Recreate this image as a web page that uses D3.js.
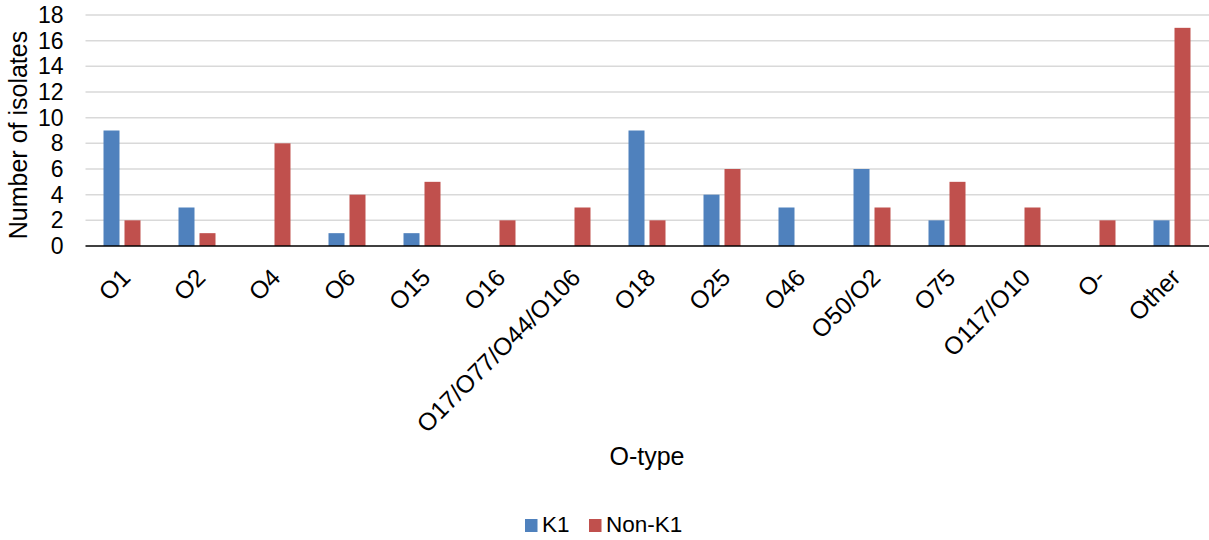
<!DOCTYPE html>
<html>
<head>
<meta charset="utf-8">
<script src="https://cdn.jsdelivr.net/npm/d3@7"></script>
<style>
  html, body { margin: 0; padding: 0; background: #fff; }
  svg { display: block; font-family: "Liberation Sans", Arial, sans-serif; }
</style>
</head>
<body>
<svg id="chart" width="1209" height="540"></svg>
<script>
// O-type categories and isolate counts per capsule group
const categories = ["O1", "O2", "O4", "O6", "O15", "O16", "O17/O77/O44/O106", "O18", "O25", "O46", "O50/O2", "O75", "O117/O10", "O-", "Other"];
const k1Values    = [9, 3, 0, 1, 1, 0, 0, 9, 4, 3, 6, 2, 0, 0, 2];
const nonK1Values = [2, 1, 8, 4, 5, 2, 3, 2, 6, 0, 3, 5, 3, 2, 17];
const seriesNames = ["K1", "Non-K1"];
const yTicks = [0, 2, 4, 6, 8, 10, 12, 14, 16, 18];

const colors = { "K1": "#4f81bd", "Non-K1": "#c0504d" };
const fontFamily = "Liberation Sans, Arial, sans-serif";

const svg = d3.select("#chart");
const plotLeft = 84.5, plotRight = 1209.5, plotTop = 15, plotBottom = 246;

const x = d3.scaleBand().domain(categories).range([plotLeft, plotRight]).paddingInner(0).paddingOuter(0);
const xs = d3.scaleBand().domain(seriesNames).range([0, x.bandwidth()]).paddingInner(0.238).paddingOuter(0.905);
const y = d3.scaleLinear().domain([0, 18]).range([plotBottom, plotTop]);

// horizontal gridlines
svg.append("g")
  .selectAll("line")
  .data(yTicks.filter(d => d > 0))
  .join("line")
  .attr("x1", plotLeft + 1).attr("x2", 1209)
  .attr("y1", d => y(d)).attr("y2", d => y(d))
  .attr("stroke", "#d9d9d9").attr("stroke-width", 1.5);

// y axis tick labels
const yAxis = d3.axisLeft(y).tickValues(yTicks).tickSize(0).tickPadding(0);
svg.append("g")
  .attr("transform", `translate(${plotLeft - 21},0)`)
  .call(yAxis)
  .call(g => g.select(".domain").remove())
  .call(g => g.attr("font-size", 23).attr("font-family", fontFamily))
  .selectAll("text")
  .attr("fill", "#000");

// bars
const rows = categories.map((c, i) => ({ cat: c, vals: [
  { s: "K1", v: k1Values[i] },
  { s: "Non-K1", v: nonK1Values[i] }
]}));

const groups = svg.append("g").selectAll("g")
  .data(rows).join("g")
  .attr("transform", d => `translate(${x(d.cat)},0)`);

groups.selectAll("rect")
  .data(d => d.vals.filter(e => e.v > 0))
  .join("rect")
  .attr("x", d => xs(d.s))
  .attr("width", xs.bandwidth())
  .attr("y", d => y(d.v))
  .attr("height", d => y(0) - y(d.v))
  .attr("fill", d => colors[d.s]);

// baseline axis with rotated category labels
const xAxis = d3.axisBottom(x).tickSize(0).tickPadding(0);
const xg = svg.append("g")
  .attr("transform", `translate(0,${plotBottom})`)
  .call(xAxis)
  .call(g => g.attr("font-size", 24.5).attr("font-family", fontFamily));
xg.select(".domain").attr("stroke", "#000").attr("stroke-width", 1.5)
  .attr("d", `M${plotLeft + 1},0H1209`);
xg.selectAll("text")
  .attr("fill", "#000")
  .attr("text-anchor", "end")
  .attr("dy", null)
  .attr("y", 0)
  .attr("transform", "translate(10,33) rotate(-45)");

// axis titles
svg.append("text")
  .attr("x", 647).attr("y", 465)
  .attr("text-anchor", "middle")
  .attr("font-size", 25)
  .text("O-type");

svg.append("text")
  .attr("transform", `translate(27,135) rotate(-90)`)
  .attr("text-anchor", "middle")
  .attr("font-size", 25)
  .text("Number of isolates");

// legend
const legend = svg.append("g").attr("transform", "translate(525,532)");
const items = [{ s: "K1", dx: 0 }, { s: "Non-K1", dx: 64 }];
items.forEach(it => {
  const g = legend.append("g").attr("transform", `translate(${it.dx},0)`);
  g.append("rect").attr("x", 0).attr("y", -13).attr("width", 12.5).attr("height", 13).attr("fill", colors[it.s]);
  g.append("text").attr("x", 17).attr("y", 0).attr("font-size", 22.5).text(it.s);
});
</script>
</body>
</html>
